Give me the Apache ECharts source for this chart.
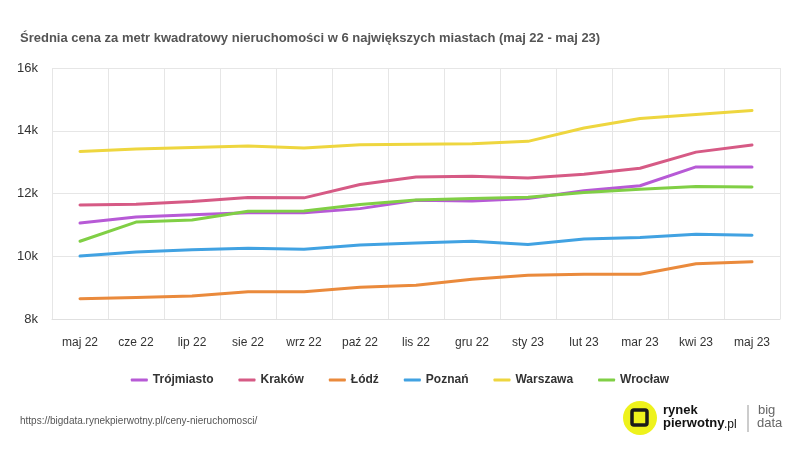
<!DOCTYPE html>
<html>
<head>
<meta charset="utf-8">
<script src="https://cdn.jsdelivr.net/npm/echarts@6/dist/echarts.min.js"></script>
<style>html,body{margin:0;padding:0;background:#fff}#c{width:800px;height:450px}</style>
</head>
<body>
<div id="c"></div>
<script>
const categories = ['maj 22','cze 22','lip 22','sie 22','wrz 22','paź 22','lis 22','gru 22','sty 23','lut 23','mar 23','kwi 23','maj 23'];
const trojmiasto = [11057,11250,11325,11389,11389,11518,11786,11764,11839,12086,12247,12847,12847];
const krakow     = [11636,11657,11743,11871,11861,12289,12525,12547,12493,12611,12804,13319,13544];
const lodz       = [8645,8688,8731,8870,8870,9010,9074,9267,9395,9427,9427,9760,9824];
const poznan     = [10006,10135,10210,10253,10220,10360,10424,10478,10371,10553,10596,10703,10671];
const warszawa   = [13340,13415,13469,13512,13447,13555,13566,13587,13662,14090,14391,14520,14648];
const wroclaw    = [10478,11089,11153,11432,11443,11646,11796,11839,11882,12032,12139,12225,12204];
const yTicks = [8000,10000,12000,14000,16000];

const seriesDefs = [
  {name:'Trójmiasto', data:trojmiasto, color:'#b75ad6'},
  {name:'Kraków', data:krakow, color:'#d65a85'},
  {name:'Łódź', data:lodz, color:'#ea8a3c'},
  {name:'Poznań', data:poznan, color:'#41a2e2'},
  {name:'Warszawa', data:warszawa, color:'#eed63f'},
  {name:'Wrocław', data:wroclaw, color:'#80cf45'}
];

const chart = echarts.init(document.getElementById('c'), null, {renderer:'canvas'});
const font = '"Liberation Sans", Arial, Helvetica, sans-serif';
chart.setOption({
  animation:false,
  backgroundColor:'#fff',
  textStyle:{fontFamily:font},
  title:{
    text:'Średnia cena za metr kwadratowy nieruchomości w 6 największych miastach (maj 22 - maj 23)',
    left:15, top:27,
    textStyle:{fontSize:13, fontWeight:'bold', color:'#555', fontFamily:font}
  },
  legend:{
    top:369, left:'center',
    itemWidth:17, itemHeight:3, itemGap:25, icon:'roundRect',
    textStyle:{fontSize:12, fontWeight:'bold', color:'#333', fontFamily:font},
    data:seriesDefs.map(s=>s.name)
  },
  grid:{left:52, right:20, top:68, bottom:131},
  xAxis:{
    type:'category', data:categories, boundaryGap:true,
    axisLine:{show:true, lineStyle:{color:'#e0e0e0'}},
    axisTick:{show:false},
    axisLabel:{color:'#333', fontSize:12, margin:18, fontFamily:font},
    splitLine:{show:true, lineStyle:{color:'#e6e6e6'}}
  },
  yAxis:{
    type:'value', min:yTicks[0], max:yTicks[yTicks.length-1], interval:2000,
    axisLine:{show:false}, axisTick:{show:false},
    axisLabel:{color:'#333', fontSize:13, margin:14, fontFamily:font, formatter:v=>(v/1000)+'k'},
    splitLine:{show:true, lineStyle:{color:'#e6e6e6'}}
  },
  series:seriesDefs.map(s=>({
    name:s.name, type:'line', data:s.data, showSymbol:false, symbol:'none',
    lineStyle:{width:3, color:s.color, cap:'round', join:'round'},
    itemStyle:{color:s.color}
  })),
  graphic:[
    {type:'text', left:20, top:416, style:{text:'https://bigdata.rynekpierwotny.pl/ceny-nieruchomosci/', fill:'#555', font:'10px '+font}},
    {type:'circle', shape:{cx:640, cy:418, r:17}, style:{fill:'#eef21c'}},
    {type:'rect', shape:{x:632, y:410, width:15, height:15, r:2}, style:{fill:'none', stroke:'#1a1a1a', lineWidth:3.5}},
    {type:'text', left:663, top:404, style:{text:'rynek', fill:'#111', font:'bold 13px '+font}},
    {type:'text', left:663, top:417, style:{text:'pierwotny', fill:'#111', font:'bold 13px '+font}},
    {type:'text', left:724, top:419, style:{text:'.pl', fill:'#111', font:'12px '+font}},
    {type:'line', shape:{x1:748, y1:405, x2:748, y2:432}, style:{stroke:'#999', lineWidth:1}},
    {type:'text', left:758, top:404, style:{text:'big', fill:'#666', font:'13px '+font}},
    {type:'text', left:757, top:417, style:{text:'data', fill:'#666', font:'13px '+font}}
  ]
});
</script>
</body>
</html>
